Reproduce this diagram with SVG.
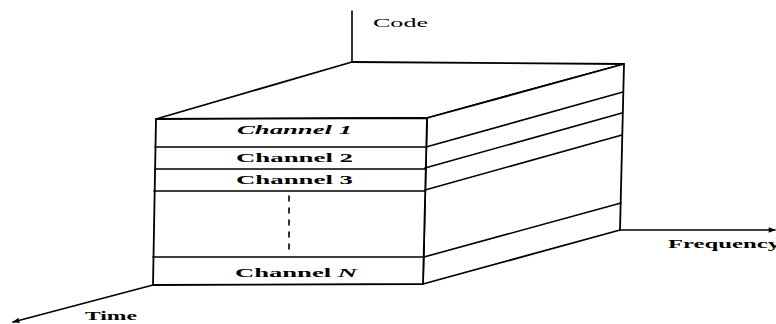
<svg xmlns="http://www.w3.org/2000/svg" width="776" height="324" viewBox="0 0 776 324">
<style>
.ln{stroke:#000;stroke-width:1.6;fill:none;stroke-linecap:round;stroke-linejoin:round}
.face{fill:#fff;stroke:#000;stroke-width:1.8;stroke-linejoin:round}
.ch{font-family:"Liberation Serif","Times New Roman",serif;font-weight:bold;font-size:13px;fill:#000}
.ax{font-family:"Liberation Serif","Times New Roman",serif;font-size:13px;fill:#000}
.bx{font-weight:bold}
</style>
<defs>
<marker id="arr" viewBox="0 0 10 10" refX="9" refY="5" markerWidth="9" markerHeight="7" markerUnits="userSpaceOnUse" orient="auto">
<path d="M0,1 L10,5 L0,9 Z" fill="#000"/>
</marker>
</defs>
<rect width="776" height="324" fill="#fff"/>
<g id="connectors">
<line class="ln" x1="352" y1="11" x2="352" y2="62"/>
<line class="ln" x1="620" y1="230" x2="775" y2="230" marker-end="url(#arr)"/>
<line class="ln" x1="153" y1="285" x2="13" y2="322" marker-end="url(#arr)"/>
</g>
<g id="block">
<polygon class="face" points="156,119 352,62 624,64 427,118"/>
<polygon class="face" points="427,118 624,64 620,230 423,284"/>
<polygon class="face" points="156,119 427,118 423,284 153,285"/>
<line class="ln" x1="426" y1="147" x2="623" y2="92"/>
<line class="ln" x1="425" y1="168" x2="622" y2="113"/>
<line class="ln" x1="425" y1="190" x2="622" y2="135"/>
<line class="ln" x1="424" y1="257" x2="621" y2="203"/>
</g>
<g id="channel1">
<line class="ln" x1="155" y1="147" x2="426" y2="147"/>
<text class="ch" x="237" y="134" textLength="115" lengthAdjust="spacingAndGlyphs" font-style="italic">Channel 1</text>
</g>
<g id="channel2">
<line class="ln" x1="155" y1="169" x2="425" y2="169"/>
<text class="ch" x="236" y="162" textLength="117" lengthAdjust="spacingAndGlyphs">Channel 2</text>
</g>
<g id="channel3">
<line class="ln" x1="154" y1="191" x2="425" y2="191"/>
<text class="ch" x="236" y="184" textLength="117" lengthAdjust="spacingAndGlyphs">Channel 3</text>
</g>
<g id="ellipsis">
<line class="ln" x1="289" y1="196" x2="289" y2="250" stroke-dasharray="5 7"/>
</g>
<g id="channelN">
<line class="ln" x1="153" y1="257" x2="424" y2="257"/>
<text class="ch" x="235" y="277" textLength="122" lengthAdjust="spacingAndGlyphs">Channel <tspan font-style="italic">N</tspan></text>
</g>
<g id="labels">
<text class="ax" x="373" y="27" textLength="55" lengthAdjust="spacingAndGlyphs">Code</text>
<text class="ax bx" x="668" y="248" textLength="112" lengthAdjust="spacingAndGlyphs">Frequency</text>
<text class="ax bx" x="85" y="320" textLength="52" lengthAdjust="spacingAndGlyphs">Time</text>
</g>
</svg>
